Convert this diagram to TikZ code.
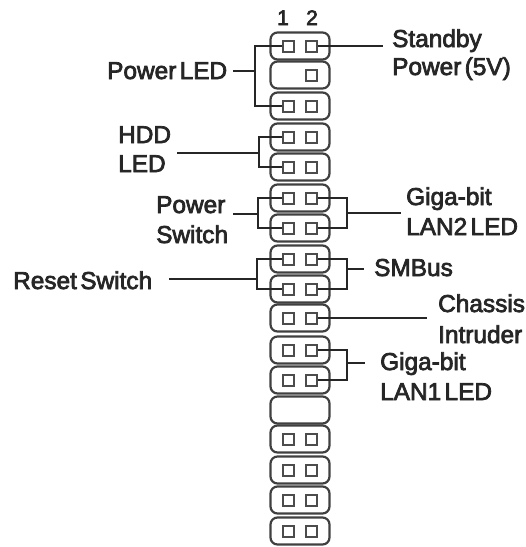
\documentclass[tikz,border=0pt]{standalone}
\usepackage{fontspec}
\setmainfont{Liberation Sans}[FakeBold=3,WordSpace=0.5]
\usetikzlibrary{calc}
\tikzset{
	rowbox/.style = {draw=black!75, line width=2.2pt, rounded corners=7pt, minimum width=59pt, minimum height=27pt, inner sep=0pt},
	pinbox/.style = {draw=black!70, line width=2pt, minimum size=11pt, inner sep=0pt},
	wire/.style = {draw=black!85, line width=1.8pt},
	lbl/.style = {anchor=base west, inner sep=0pt, font=\fontsize{24.4}{24.4}\selectfont, text=black!85},
	num/.style = {anchor=base, inner sep=0pt, font=\fontsize{21}{21}\selectfont, text=black!85},
}
\begin{document}
\begin{tikzpicture}[x=1pt,y=-1pt]

	\useasboundingbox (0,0) rectangle (526,547);

	% header rows
	\foreach \r/\y in {1/46,2/75,3/106,4/137,5/167,6/198,7/228,8/259,9/289,10/318,11/350,12/380,13/410,14/439,15/470,16/500,17/531}
		\node[rowbox] (row\r) at (300,\y) {};

	% pins
	\foreach \r in {1,3,4,5,6,7,8,9,10,11,12,14,15,16,17}
		\node[pinbox] (a\r) at ($(row\r)+(-12,0)$) {};
	\foreach \r in {1,2,3,4,5,6,7,8,9,10,11,12,14,15,16,17}
		\node[pinbox] (b\r) at ($(row\r)+(11,0)$) {};

	\node[num] (one) at (283,25) {1};
	\node[num] (two) at (312,25) {2};

	% left side
	\node[lbl] (pled) at (107,79) {Power LED};
	\node[lbl] (hdd) at (118,143) {HDD};
	\node[lbl] (hled) at (118,172) {LED};
	\node[lbl] (psw) at (156,213) {Power};
	\node[lbl] (psw2) at (156,243) {Switch};
	\node[lbl] (rst) at (13,289) {Reset Switch};

	\coordinate (jp) at (255,71);
	\draw[wire] (a1.west) -| (jp) |- (a3.west);
	\draw[wire] (jp) -- (233,71);

	\coordinate (jh) at (259,153);
	\draw[wire] (a4.west) -| (jh) |- (a5.west);
	\draw[wire] (jh) -- (177,153);

	\coordinate (js) at (258,214);
	\draw[wire] (a6.west) -| (js) |- (a7.west);
	\draw[wire] (js) -- (233,214);

	\coordinate (jr) at (257,279);
	\draw[wire] (a8.west) -| (jr) |- (a9.west);
	\draw[wire] (jr) -- (169,279);

	% right side
	\node[lbl] (stby) at (392,47) {Standby};
	\node[lbl] (stby2) at (392,75) {Power (5V)};
	\node[lbl] (gig2) at (406,205) {Giga-bit};
	\node[lbl] (lan2) at (406,235) {LAN2 LED};
	\node[lbl] (smb) at (374,276) {SMBus};
	\node[lbl] (chs) at (438,312) {Chassis};
	\node[lbl] (chs2) at (438,343) {Intruder};
	\node[lbl] (gig1) at (380,370) {Giga-bit};
	\node[lbl] (lan1) at (380,400) {LAN1 LED};

	\coordinate (es) at (383,46);
	\draw[wire] (b1.east) -- (es);

	\coordinate (jl2) at (347,213);
	\draw[wire] (b6.east) -| (jl2) |- (b7.east);
	\draw[wire] (jl2) -- (401,213);

	\coordinate (jm) at (347,269);
	\draw[wire] (b8.east) -| (jm) |- (b9.east);
	\draw[wire] (jm) -- (364,269);

	\coordinate (ec) at (427,318);
	\draw[wire] (b10.east) -- (ec);

	\coordinate (jl1) at (347,363);
	\draw[wire] (b11.east) -| (jl1) |- (b12.east);
	\draw[wire] (jl1) -- (365,363);

\end{tikzpicture}
\end{document}
